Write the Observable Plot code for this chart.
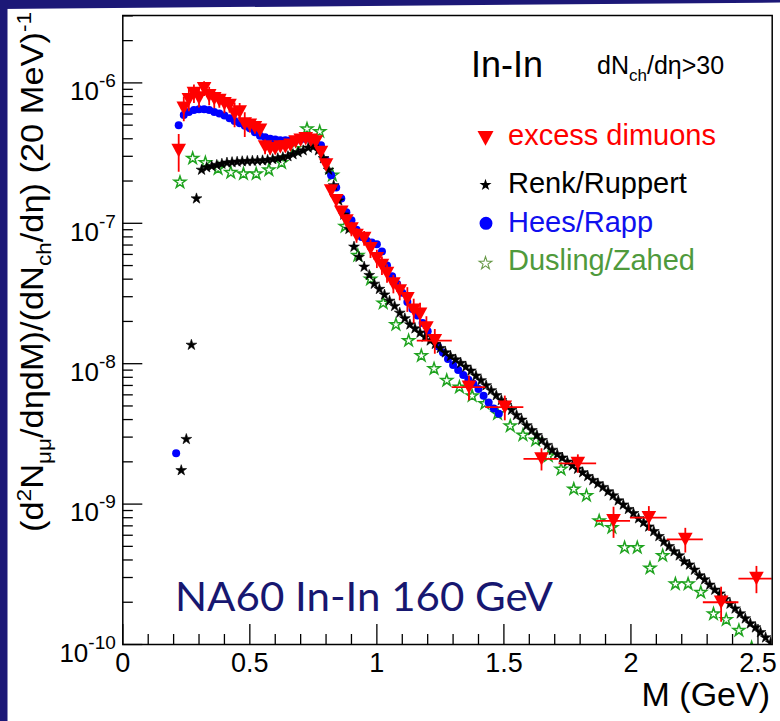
<!DOCTYPE html>
<html><head><meta charset="utf-8">
<script src="https://cdn.jsdelivr.net/npm/d3@7"></script>
<script src="https://cdn.jsdelivr.net/npm/@observablehq/plot@0.6"></script>
<style>
html,body{margin:0;padding:0;background:#fff;}
#wrap{position:relative;width:780px;height:721px;overflow:hidden;background:#fff;}
#wrap svg{position:absolute;left:0;top:0;}
</style></head><body><div id="wrap"></div>
<script>
// ---------- data ----------
const excessMass = [0.22,0.24,0.26,0.28,0.30,0.32,0.34,0.36,0.38,0.40,0.42,0.44,0.46,0.48,0.50,0.52,0.54,0.56,0.58,0.60,0.62,0.64,0.66,0.68,0.70,0.72,0.74,0.76,0.78,0.80,0.82,0.84,0.86,0.88,0.90,0.92,0.95,0.975,1.00,1.02,1.04,1.065,1.09,1.12,1.145,1.17,1.195,
  1.228,1.3625,1.5035,1.648,1.791,1.9315,2.0705,2.214,2.355,2.494];
const excessValue = [3.3e-7,6.6e-7,7.6e-7,8.4e-7,7.8e-7,9.1e-7,8.1e-7,7.7e-7,7.5e-7,7.1e-7,6.9e-7,6.0e-7,6.2e-7,5.1e-7,5.0e-7,4.8e-7,4.6e-7,3.5e-7,3.4e-7,3.4e-7,3.5e-7,3.5e-7,3.6e-7,3.8e-7,3.9e-7,4.0e-7,3.9e-7,3.8e-7,3.2e-7,2.6e-7,1.7e-7,1.45e-7,1.2e-7,1.04e-7,9.1e-8,8.2e-8,7.8e-8,6.6e-8,5.6e-8,5.0e-8,4.4e-8,3.7e-8,3.3e-8,2.9e-8,2.4e-8,2.25e-8,1.8e-8,
  1.46e-8,6.8e-9,4.9e-9,2.1e-9,1.95e-9,7.6e-10,8.0e-10,5.6e-10,2.0e-10,2.95e-10];
const excessRelErr = [0.3,0.2,0.18,0.15,0.15,0.12,0.15,0.15,0.12,0.15,0.12,0.2,0.15,0.2,0.12,0.1,0.1,0.12,0.1,0.08,0.08,0.08,0.06,0.06,0.05,0.05,0.05,0.05,0.06,0.08,0.1,0.1,0.1,0.1,0.12,0.12,0.12,0.15,0.15,0.15,0.15,0.15,0.15,0.2,0.2,0.2,0.2,
  0.2,0.2,0.2,0.18,0.15,0.25,0.2,0.2,0.28,0.22];
const excessHalfWidth = [0.01,0.01,0.01,0.01,0.01,0.01,0.01,0.01,0.01,0.01,0.01,0.01,0.01,0.01,0.01,0.01,0.01,0.01,0.01,0.01,0.01,0.01,0.01,0.01,0.01,0.01,0.01,0.01,0.01,0.01,0.01,0.01,0.01,0.01,0.01,0.01,0.012,0.012,0.012,0.012,0.012,0.012,0.012,0.012,0.012,0.012,0.012,
  0.069,0.066,0.075,0.069,0.074,0.067,0.072,0.071,0.07,0.069];

const renkMass = [0.23,0.25,0.27,0.29,0.31,0.33,0.35,0.37,0.39,0.41,0.43,0.45,0.47,0.49,0.51,0.53,0.55,0.57,0.59,0.61,0.63,0.65,0.67,0.69,0.71,0.73,0.75,0.77,0.79,0.81,0.83,0.85,0.87,0.89,0.91,0.93,0.95,0.97,0.99,
  1.01,1.03,1.05,1.07,1.09,1.11,1.13,1.15,1.17,1.19,1.21,1.23,1.25,1.27,1.29,1.31,1.33,1.35,1.37,1.39,1.41,1.43,1.45,1.47,1.49,1.51,1.53,1.55,1.57,1.59,1.61,1.63,1.65,1.67,1.69,
  1.71,1.73,1.75,1.77,1.79,1.81,1.83,1.85,1.87,1.89,1.91,1.93,1.95,1.97,1.99,2.01,2.03,2.05,2.07,2.09,2.11,2.13,2.15,2.17,2.19,2.21,2.23,2.25,2.27,2.29,2.31,2.33,2.35,2.37,2.39,2.41,2.43,2.45,2.47,2.49,2.51,2.53,2.55];
const renkValue = [1.74e-9,2.9e-9,1.36e-8,1.5e-7,2.4e-7,2.5e-7,2.55e-7,2.6e-7,2.65e-7,2.7e-7,2.72e-7,2.74e-7,2.76e-7,2.77e-7,2.78e-7,2.79e-7,2.8e-7,2.82e-7,2.86e-7,2.9e-7,2.95e-7,3.0e-7,3.1e-7,3.2e-7,3.3e-7,3.45e-7,3.5e-7,3.3e-7,2.9e-7,2.4e-7,1.86e-7,1.45e-7,1.15e-7,9.1e-8,6.8e-8,5.75e-8,4.9e-8,4.27e-8,3.7e-8,
  3.4e-8,3.1e-8,2.8e-8,2.57e-8,2.3e-8,2.1e-8,1.9e-8,1.78e-8,1.66e-8,1.55e-8,1.46e-8,1.38e-8,1.29e-8,1.2e-8,1.13e-8,1.07e-8,1.01e-8,9.5e-9,8.9e-9,8.2e-9,7.6e-9,7.0e-9,6.45e-9,5.95e-9,5.5e-9,5.07e-9,4.68e-9,4.3e-9,3.98e-9,3.63e-9,3.35e-9,3.09e-9,2.85e-9,2.63e-9,2.43e-9,
  2.26e-9,2.14e-9,2.0e-9,1.88e-9,1.78e-9,1.68e-9,1.58e-9,1.48e-9,1.40e-9,1.32e-9,1.23e-9,1.15e-9,1.06e-9,9.9e-10,9.2e-10,8.6e-10,7.9e-10,7.4e-10,6.9e-10,6.4e-10,5.9e-10,5.4e-10,5.0e-10,4.6e-10,4.3e-10,3.9e-10,3.7e-10,3.4e-10,3.1e-10,2.9e-10,2.66e-10,2.45e-10,2.3e-10,2.1e-10,1.95e-10,1.8e-10,1.66e-10,1.53e-10,1.41e-10,1.32e-10,1.22e-10,1.12e-10,1.03e-10];

const heesMass = [0.21,0.22,0.24,0.26,0.28,0.30,0.32,0.34,0.36,0.38,0.40,0.42,0.44,0.46,0.48,0.50,0.52,0.54,0.56,0.58,0.60,0.62,0.64,0.66,0.68,0.70,0.72,0.74,0.76,0.78,0.80,0.82,0.84,0.86,0.88,0.90,0.92,0.94,0.96,0.98,1.00,
  1.02,1.04,1.06,1.08,1.10,1.12,1.14,1.16,1.18,1.20,1.22,1.24,1.26,1.28,1.30,1.32,1.34,1.36,1.38,1.40,1.42,1.44,1.46,1.48];
const heesValue = [2.3e-9,5.0e-7,5.9e-7,6.2e-7,6.4e-7,6.5e-7,6.5e-7,6.4e-7,6.2e-7,6.05e-7,5.85e-7,5.6e-7,5.35e-7,5.15e-7,4.95e-7,4.75e-7,4.45e-7,4.2e-7,4.1e-7,4.0e-7,3.95e-7,3.9e-7,3.9e-7,3.9e-7,3.9e-7,3.95e-7,4.0e-7,4.0e-7,3.9e-7,3.6e-7,2.8e-7,2.2e-7,1.8e-7,1.5e-7,1.2e-7,1.05e-7,9.0e-8,8.0e-8,7.5e-8,7.3e-8,7.1e-8,
  6.3e-8,5.0e-8,4.2e-8,3.7e-8,3.2e-8,2.75e-8,2.45e-8,2.2e-8,1.95e-8,1.7e-8,1.5e-8,1.33e-8,1.2e-8,1.08e-8,9.8e-9,9.0e-9,8.3e-9,7.7e-9,7.2e-9,6.6e-9,5.9e-9,5.3e-9,4.8e-9,4.4e-9];

const duslingMass = [0.225,0.275,0.325,0.375,0.425,0.475,0.525,0.575,0.625,0.675,0.725,0.775,0.825,0.875,0.925,0.975,1.025,1.075,1.125,1.175,1.225,1.275,1.325,1.375,1.425,1.475,1.525,1.575,1.625,1.675,
  1.725,1.775,1.825,1.875,1.925,1.975,2.025,2.075,2.125,2.175,2.225,2.275,2.325,2.375,2.425,2.475];
const duslingValue = [1.96e-7,2.9e-7,2.7e-7,2.45e-7,2.3e-7,2.25e-7,2.25e-7,2.4e-7,2.7e-7,3.4e-7,4.7e-7,4.5e-7,2.2e-7,9.5e-8,5.9e-8,4.0e-8,2.7e-8,1.9e-8,1.46e-8,1.14e-8,9.2e-9,7.6e-9,6.8e-9,5.9e-9,5.2e-9,4.4e-9,3.6e-9,3.1e-9,2.85e-9,2.2e-9,
  1.77e-9,1.28e-9,1.15e-9,7.6e-10,6.8e-10,4.9e-10,4.9e-10,3.5e-10,4.3e-10,2.7e-10,2.7e-10,2.35e-10,1.65e-10,1.5e-10,1.26e-10,9.5e-11];

const xMajorTicks = [0, 0.5, 1, 1.5, 2, 2.5];
const xTickLabels = ["0", "0.5", "1", "1.5", "2", "2.5"];
const xMinorTicks = [0.1,0.2,0.3,0.4,0.6,0.7,0.8,0.9,1.1,1.2,1.3,1.4,1.6,1.7,1.8,1.9,2.1,2.2,2.3,2.4];
const yMajorTicks = [1e-10, 1e-9, 1e-8, 1e-7, 1e-6];
const yTickExponents = ["-10", "-9", "-8", "-7", "-6"];
const yMinorMultipliers = [2,3,4,5,6,7,8,9];

const seriesNames = ["excess dimuons", "Renk/Ruppert", "Hees/Rapp", "Dusling/Zahed"];

// ---------- build ----------
const excess = excessMass.map((m, i) => ({
  m, y: excessValue[i],
  lo: excessValue[i] * (1 - excessRelErr[i]), hi: excessValue[i] * (1 + excessRelErr[i]),
  x1: m - excessHalfWidth[i], x2: m + excessHalfWidth[i]
}));
const renk = renkMass.map((m, i) => ({m, y: renkValue[i]}));
const hees = heesMass.map((m, i) => ({m, y: heesValue[i]}));
const dusling = duslingMass.map((m, i) => ({m, y: duslingValue[i]}));
const yMinorTicks = yMajorTicks.flatMap(t => yMinorMultipliers.map(k => t * k)).filter(v => v < 3.02e-6);

const FONT = "'Liberation Sans', Arial, Helvetica, sans-serif";
const W = 780, H = 721, mL = 122.3, mR = 8.3, mT = 15, mB = 77;
const innerH = H - mT - mB, innerW = W - mL - mR;

const triDown = {
  draw(ctx, size) {
    const r = Math.sqrt(size / Math.PI), h = r * 0.92;
    ctx.moveTo(-r, -h); ctx.lineTo(r, -h); ctx.lineTo(0, h); ctx.closePath();
  }
};

const RED = "#ff0000", BLUE = "#0000ff", GREEN = "#1fa31f";

const chart = Plot.plot({
  width: W, height: H,
  marginLeft: mL, marginRight: mR, marginTop: mT, marginBottom: mB,
  style: {background: "transparent", fontFamily: FONT, color: "#000", overflow: "visible"},
  x: {domain: [0, 2.556], axis: null},
  y: {type: "log", domain: [1e-10, 3.02e-6], axis: null},
  marks: [
    Plot.dot(dusling, {x: "m", y: "y", symbol: "star", r: 3.7, fill: "none", stroke: GREEN, strokeWidth: 1.5, clip: true}),
    Plot.dot(hees, {x: "m", y: "y", symbol: "circle", r: 4, fill: BLUE, clip: true}),
    Plot.dot(renk, {x: "m", y: "y", symbol: "star", r: 3.4, fill: "#000", stroke: "#000", strokeWidth: 0.6, clip: true}),
    Plot.ruleX(excess, {x: "m", y1: "lo", y2: "hi", stroke: RED, strokeWidth: 1.8, clip: true}),
    Plot.ruleY(excess, {y: "y", x1: "x1", x2: "x2", stroke: RED, strokeWidth: 1.8, clip: true}),
    Plot.dot(excess, {x: "m", y: "y", symbol: triDown, r: 7.3, fill: RED, clip: true}),
    Plot.tickX(xMajorTicks, {x: d => d, insetTop: innerH - 20, stroke: "#000", strokeWidth: 1.3}),
    Plot.tickX(xMinorTicks, {x: d => d, insetTop: innerH - 10, stroke: "#000", strokeWidth: 1.3}),
    Plot.tickY(yMajorTicks, {y: d => d, insetRight: innerW - 20, stroke: "#000", strokeWidth: 1.3}),
    Plot.tickY(yMinorTicks, {y: d => d, insetRight: innerW - 10.5, stroke: "#000", strokeWidth: 1.3}),
    Plot.axisX(xMajorTicks, {tickSize: 0, tickPadding: 8, fontSize: 27, label: null,
      tickFormat: d => xTickLabels[xMajorTicks.indexOf(d)]}),
    Plot.axisY(yMajorTicks, {tickSize: 0, tickPadding: 7, fontSize: 26, dy: 9, label: null,
      tickFormat: d => yTickExponents[yMajorTicks.indexOf(d)]}),
    Plot.frame({stroke: "#000", strokeWidth: 1.5})
  ]
});
document.getElementById("wrap").appendChild(chart);

const ns = "http://www.w3.org/2000/svg";
// superscript exponents on y tick labels
chart.querySelectorAll('g[aria-label="y-axis tick label"] text').forEach(t => {
  const e = t.textContent;
  t.textContent = "10";
  const ts = document.createElementNS(ns, "tspan");
  ts.setAttribute("dy", "-13");
  ts.setAttribute("font-size", "19");
  ts.textContent = e;
  t.appendChild(ts);
});

const svg = d3.select(chart);
const g = svg.append("g").attr("font-family", FONT).attr("text-anchor", "start");

// y axis title
const yt = g.append("text")
  .attr("transform", "translate(43,272) rotate(-90)")
  .attr("text-anchor", "middle").attr("font-size", 32)
  .attr("textLength", 520).attr("lengthAdjust", "spacingAndGlyphs").attr("fill", "#000");
yt.append("tspan").text("(d");
yt.append("tspan").attr("dy", -12).attr("font-size", 21).text("2");
yt.append("tspan").attr("dy", 12).text("N");
yt.append("tspan").attr("dy", 8).attr("font-size", 21).text("μμ");
yt.append("tspan").attr("dy", -8).text("/dηdM)/(dN");
yt.append("tspan").attr("dy", 8).attr("font-size", 21).text("ch");
yt.append("tspan").attr("dy", -8).text("/dη) (20 MeV)");
yt.append("tspan").attr("dy", -12).attr("font-size", 21).text("-1");

// x axis title
g.append("text").attr("x", 770).attr("y", 706).attr("text-anchor", "end")
  .attr("font-size", 34).attr("fill", "#000").text("M (GeV)");

// In-In label and multiplicity cut
g.append("text").attr("x", 471).attr("y", 77).attr("font-size", 36).attr("fill", "#000").text("In-In");
const dn = g.append("text").attr("x", 597).attr("y", 74).attr("font-size", 25).attr("fill", "#000");
dn.append("tspan").text("dN");
dn.append("tspan").attr("dy", 7).attr("font-size", 17).text("ch");
dn.append("tspan").attr("dy", -7).text("/dη>30");

// legend
const legendRows = [
  {name: seriesNames[0], color: RED, y: 145, my: 138.3, kind: "tri"},
  {name: seriesNames[1], color: "#000", y: 192.5, my: 185, kind: "star"},
  {name: seriesNames[2], color: "#1010ee", y: 231.5, my: 223.3, kind: "circle"},
  {name: seriesNames[3], color: "#4f9a3c", y: 270, my: 263.3, kind: "ostar"}
];
legendRows.forEach(r => {
  if (r.kind === "tri") {
    const p = d3.path(); triDown.draw(p, Math.PI * 64);
    g.append("path").attr("d", p.toString()).attr("transform", `translate(485.5,${r.my})`).attr("fill", RED);
  } else if (r.kind === "star") {
    g.append("path").attr("d", d3.symbol(d3.symbolStar, 45)()).attr("transform", `translate(485.5,${r.my})`).attr("fill", "#000");
  } else if (r.kind === "circle") {
    g.append("path").attr("d", d3.symbol(d3.symbolCircle, Math.PI * 42)()).attr("transform", `translate(486,${r.my})`).attr("fill", BLUE);
  } else {
    g.append("path").attr("d", d3.symbol(d3.symbolStar, 50)()).attr("transform", `translate(485.5,${r.my})`)
      .attr("fill", "none").attr("stroke", "#6a9a4a").attr("stroke-width", 1.1);
  }
  g.append("text").attr("x", 508).attr("y", r.y).attr("font-size", 29).attr("fill", r.color).text(r.name);
});

// NA60 caption
g.append("text").attr("x", 175).attr("y", 611).attr("font-family", "Lato, 'Open Sans', sans-serif")
  .attr("font-size", 40).attr("textLength", 378).attr("lengthAdjust", "spacingAndGlyphs")
  .attr("fill", "#171770").text("NA60 In-In 160 GeV");

// navy slide border (top and left)
const border = d3.select("#wrap").append("svg").attr("width", W).attr("height", H)
  .style("position", "absolute").style("left", 0).style("top", 0).style("pointer-events", "none");
border.append("polygon").attr("points", `0,0 ${W},0 ${W},2.5 0,9`).attr("fill", "#1c1877");
border.append("rect").attr("x", 0).attr("y", 0).attr("width", 7.5).attr("height", H).attr("fill", "#1c1877");
</script></body></html>
